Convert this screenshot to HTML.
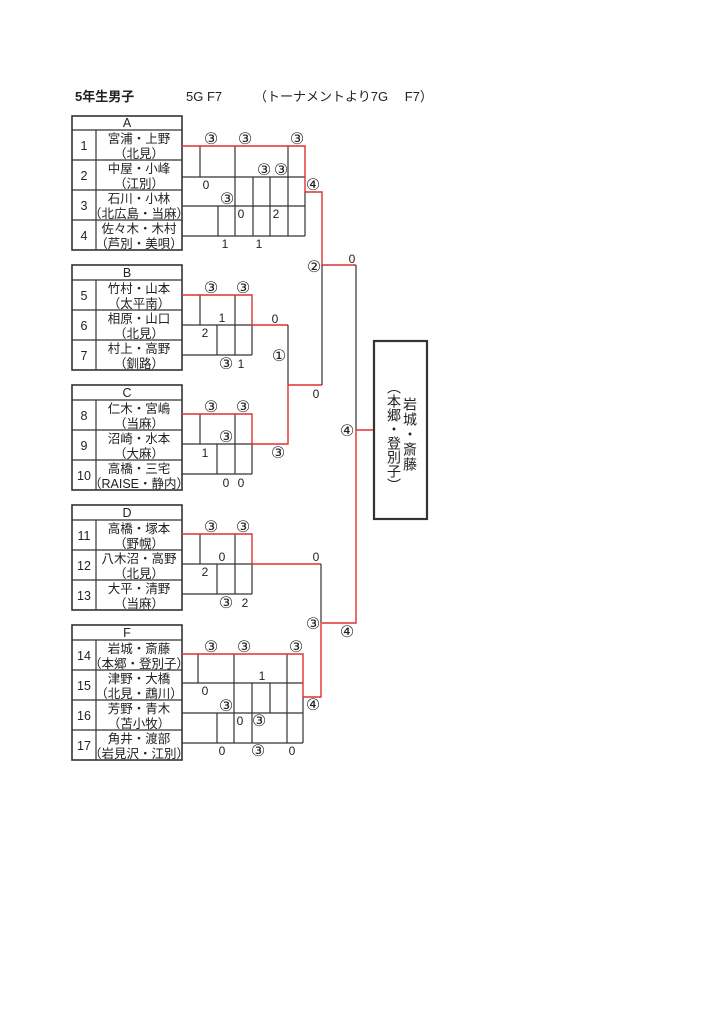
<!DOCTYPE html>
<html><head><meta charset="utf-8"><style>
html,body{margin:0;padding:0;background:#fff;}
svg{display:block;}
text{font-family:"Liberation Sans","Noto Sans CJK JP",sans-serif;fill:#222;}
.t{font-size:13px;font-weight:bold;}
.n{font-size:12.5px;text-anchor:middle;}
.s{font-size:12px;text-anchor:middle;}
.c{font-size:16px;font-family:"DejaVu Sans","Liberation Sans",sans-serif;}
.k{stroke:#333;stroke-width:1.2;fill:none;}
.r{stroke:#e03030;stroke-width:1.4;fill:none;}
.b{stroke:#333;stroke-width:1.6;fill:none;}
</style></head><body>
<svg width="724" height="1024" viewBox="0 0 724 1024">
<text class="t" x="75" y="101">5年生男子</text>
<text class="t" x="186" y="101" style="font-weight:normal">5G  F7</text>
<text class="t" x="254" y="101" style="font-weight:normal">（トーナメントより7G　 F7）</text>

<!-- Table A -->
<rect class="b" x="72" y="116" width="110" height="134"/>
<line class="k" x1="72" y1="130" x2="182" y2="130"/>
<line class="k" x1="72" y1="160" x2="182" y2="160"/>
<line class="k" x1="72" y1="190" x2="182" y2="190"/>
<line class="k" x1="72" y1="220" x2="182" y2="220"/>
<line class="k" x1="96" y1="130" x2="96" y2="250"/>
<text class="n" x="127" y="127">A</text>
<text class="n" x="84" y="150">1</text><text class="n" x="139" y="143">宮浦・上野</text><text class="n" x="139" y="158">（北見）</text>
<text class="n" x="84" y="180">2</text><text class="n" x="139" y="173">中屋・小峰</text><text class="n" x="139" y="188">（江別）</text>
<text class="n" x="84" y="210">3</text><text class="n" x="139" y="203">石川・小林</text><text class="n" x="139" y="218">（北広島・当麻）</text>
<text class="n" x="84" y="240">4</text><text class="n" x="139" y="233">佐々木・木村</text><text class="n" x="139" y="248">（芦別・美唄）</text>

<line class="k" x1="182" y1="177" x2="305" y2="177"/>
<line class="k" x1="182" y1="206" x2="305" y2="206"/>
<line class="k" x1="182" y1="236" x2="305" y2="236"/>
<line class="k" x1="200" y1="146" x2="200" y2="177"/>
<line class="k" x1="235" y1="146" x2="235" y2="236"/>
<line class="k" x1="218" y1="206" x2="218" y2="236"/>
<line class="k" x1="253" y1="177" x2="253" y2="236"/>
<line class="k" x1="270" y1="177" x2="270" y2="236"/>
<line class="k" x1="288" y1="146" x2="288" y2="236"/>
<line class="k" x1="305" y1="192" x2="305" y2="236"/>
<polyline class="r" points="182,146 305,146 305,192 322,192 322,265 356,265"/>
<text class="s c" x="211" y="144">③</text><text class="s c" x="245" y="144">③</text><text class="s c" x="297" y="144">③</text>
<text class="s c" x="264" y="175">③</text><text class="s c" x="281" y="175">③</text>
<text class="s" x="206" y="189">0</text><text class="s c" x="227" y="204">③</text>
<text class="s" x="241" y="218">0</text><text class="s" x="276" y="218">2</text>
<text class="s" x="225" y="248">1</text><text class="s" x="259" y="248">1</text>
<text class="s c" x="313" y="190">④</text>

<!-- Table B -->
<rect class="b" x="72" y="265" width="110" height="105"/>
<line class="k" x1="72" y1="280" x2="182" y2="280"/>
<line class="k" x1="72" y1="310" x2="182" y2="310"/>
<line class="k" x1="72" y1="340" x2="182" y2="340"/>
<line class="k" x1="96" y1="280" x2="96" y2="370"/>
<text class="n" x="127" y="277">B</text>
<text class="n" x="84" y="300">5</text><text class="n" x="139" y="293">竹村・山本</text><text class="n" x="139" y="308">（太平南）</text>
<text class="n" x="84" y="330">6</text><text class="n" x="139" y="323">相原・山口</text><text class="n" x="139" y="338">（北見）</text>
<text class="n" x="84" y="360">7</text><text class="n" x="139" y="353">村上・高野</text><text class="n" x="139" y="368">（釧路）</text>
<line class="k" x1="182" y1="325" x2="252" y2="325"/>
<line class="k" x1="182" y1="355" x2="252" y2="355"/>
<line class="k" x1="200" y1="295" x2="200" y2="325"/>
<line class="k" x1="235" y1="295" x2="235" y2="355"/>
<line class="k" x1="217" y1="325" x2="217" y2="355"/>
<line class="k" x1="252" y1="325" x2="252" y2="355"/>
<polyline class="r" points="182,295 252,295 252,325 288,325"/>
<line class="k" x1="288" y1="325" x2="288" y2="385"/>
<text class="s c" x="211" y="293">③</text><text class="s c" x="243" y="293">③</text>
<text class="s" x="222" y="322">1</text><text class="s" x="205" y="337">2</text>
<text class="s c" x="226" y="369">③</text><text class="s" x="241" y="368">1</text>
<text class="s" x="275" y="323">0</text><text class="s c" x="279" y="361">①</text>

<!-- Table C -->
<rect class="b" x="72" y="385" width="110" height="105"/>
<line class="k" x1="72" y1="400" x2="182" y2="400"/>
<line class="k" x1="72" y1="430" x2="182" y2="430"/>
<line class="k" x1="72" y1="460" x2="182" y2="460"/>
<line class="k" x1="96" y1="400" x2="96" y2="490"/>
<text class="n" x="127" y="397">C</text>
<text class="n" x="84" y="420">8</text><text class="n" x="139" y="413">仁木・宮嶋</text><text class="n" x="139" y="428">（当麻）</text>
<text class="n" x="84" y="450">9</text><text class="n" x="139" y="443">沼崎・水本</text><text class="n" x="139" y="458">（大麻）</text>
<text class="n" x="84" y="480">10</text><text class="n" x="139" y="473">高橋・三宅</text><text class="n" x="139" y="488">（RAISE・静内）</text>
<line class="k" x1="182" y1="444" x2="252" y2="444"/>
<line class="k" x1="182" y1="474" x2="252" y2="474"/>
<line class="k" x1="200" y1="414" x2="200" y2="444"/>
<line class="k" x1="235" y1="414" x2="235" y2="474"/>
<line class="k" x1="217" y1="444" x2="217" y2="474"/>
<line class="k" x1="252" y1="444" x2="252" y2="474"/>
<polyline class="r" points="182,414 252,414 252,444 288,444 288,385 322,385"/>
<line class="k" x1="322" y1="265" x2="322" y2="385"/>
<text class="s c" x="211" y="412">③</text><text class="s c" x="243" y="412">③</text>
<text class="s c" x="226" y="442">③</text><text class="s" x="205" y="457">1</text>
<text class="s" x="226" y="487">0</text><text class="s" x="241" y="487">0</text>
<text class="s c" x="278" y="458">③</text>
<text class="s" x="316" y="398">0</text>
<text class="s c" x="314" y="272">②</text>
<text class="s" x="352" y="263">0</text>

<!-- Final -->
<line class="k" x1="356" y1="265" x2="356" y2="430"/>
<polyline class="r" points="374,430 356,430 356,623 322,623"/>
<text class="s c" x="347" y="436">④</text>
<rect x="374" y="341" width="53" height="178" fill="none" stroke="#333" stroke-width="2.2"/>
<text x="410" y="397" style="font-size:14px;writing-mode:vertical-rl;letter-spacing:1px">岩城・斎藤</text>
<text x="394" y="380" style="font-size:14px;writing-mode:vertical-rl;letter-spacing:0px">（本郷・登別子）</text>

<!-- Table D -->
<rect class="b" x="72" y="505" width="110" height="105"/>
<line class="k" x1="72" y1="520" x2="182" y2="520"/>
<line class="k" x1="72" y1="550" x2="182" y2="550"/>
<line class="k" x1="72" y1="580" x2="182" y2="580"/>
<line class="k" x1="96" y1="520" x2="96" y2="610"/>
<text class="n" x="127" y="517">D</text>
<text class="n" x="84" y="540">11</text><text class="n" x="139" y="533">高橋・塚本</text><text class="n" x="139" y="548">（野幌）</text>
<text class="n" x="84" y="570">12</text><text class="n" x="139" y="563">八木沼・高野</text><text class="n" x="139" y="578">（北見）</text>
<text class="n" x="84" y="600">13</text><text class="n" x="139" y="593">大平・清野</text><text class="n" x="139" y="608">（当麻）</text>
<line class="k" x1="182" y1="564" x2="252" y2="564"/>
<line class="k" x1="182" y1="594" x2="252" y2="594"/>
<line class="k" x1="200" y1="534" x2="200" y2="564"/>
<line class="k" x1="235" y1="534" x2="235" y2="594"/>
<line class="k" x1="217" y1="564" x2="217" y2="594"/>
<line class="k" x1="252" y1="564" x2="252" y2="594"/>
<polyline class="r" points="182,534 252,534 252,564 321,564"/>
<line class="k" x1="321" y1="564" x2="321" y2="623"/>
<text class="s c" x="211" y="532">③</text><text class="s c" x="243" y="532">③</text>
<text class="s" x="222" y="561">0</text><text class="s" x="205" y="576">2</text>
<text class="s c" x="226" y="608">③</text><text class="s" x="245" y="607">2</text>
<text class="s" x="316" y="561">0</text>
<text class="s c" x="313" y="629">③</text>
<text class="s c" x="347" y="637">④</text>

<!-- Table F -->
<rect class="b" x="72" y="625" width="110" height="135"/>
<line class="k" x1="72" y1="640" x2="182" y2="640"/>
<line class="k" x1="72" y1="670" x2="182" y2="670"/>
<line class="k" x1="72" y1="700" x2="182" y2="700"/>
<line class="k" x1="72" y1="730" x2="182" y2="730"/>
<line class="k" x1="96" y1="640" x2="96" y2="760"/>
<text class="n" x="127" y="637">F</text>
<text class="n" x="84" y="660">14</text><text class="n" x="139" y="653">岩城・斎藤</text><text class="n" x="139" y="668">（本郷・登別子）</text>
<text class="n" x="84" y="690">15</text><text class="n" x="139" y="683">津野・大橋</text><text class="n" x="139" y="698">（北見・鵡川）</text>
<text class="n" x="84" y="720">16</text><text class="n" x="139" y="713">芳野・青木</text><text class="n" x="139" y="728">（苫小牧）</text>
<text class="n" x="84" y="750">17</text><text class="n" x="139" y="743">角井・渡部</text><text class="n" x="139" y="758">（岩見沢・江別）</text>
<line class="k" x1="182" y1="683" x2="303" y2="683"/>
<line class="k" x1="182" y1="713" x2="303" y2="713"/>
<line class="k" x1="182" y1="743" x2="303" y2="743"/>
<line class="k" x1="198" y1="654" x2="198" y2="683"/>
<line class="k" x1="234" y1="654" x2="234" y2="743"/>
<line class="k" x1="217" y1="713" x2="217" y2="743"/>
<line class="k" x1="252" y1="683" x2="252" y2="743"/>
<line class="k" x1="270" y1="683" x2="270" y2="713"/>
<line class="k" x1="287" y1="654" x2="287" y2="743"/>
<line class="k" x1="303" y1="697" x2="303" y2="743"/>
<polyline class="r" points="182,654 303,654 303,697 321,697 321,623"/>
<text class="s c" x="211" y="652">③</text><text class="s c" x="244" y="652">③</text><text class="s c" x="296" y="652">③</text>
<text class="s" x="262" y="680">1</text><text class="s" x="205" y="695">0</text>
<text class="s c" x="226" y="711">③</text><text class="s" x="240" y="725">0</text><text class="s c" x="259" y="726">③</text>
<text class="s" x="222" y="755">0</text><text class="s c" x="258" y="756">③</text><text class="s" x="292" y="755">0</text>
<text class="s c" x="313" y="710">④</text>
</svg>
</body></html>
